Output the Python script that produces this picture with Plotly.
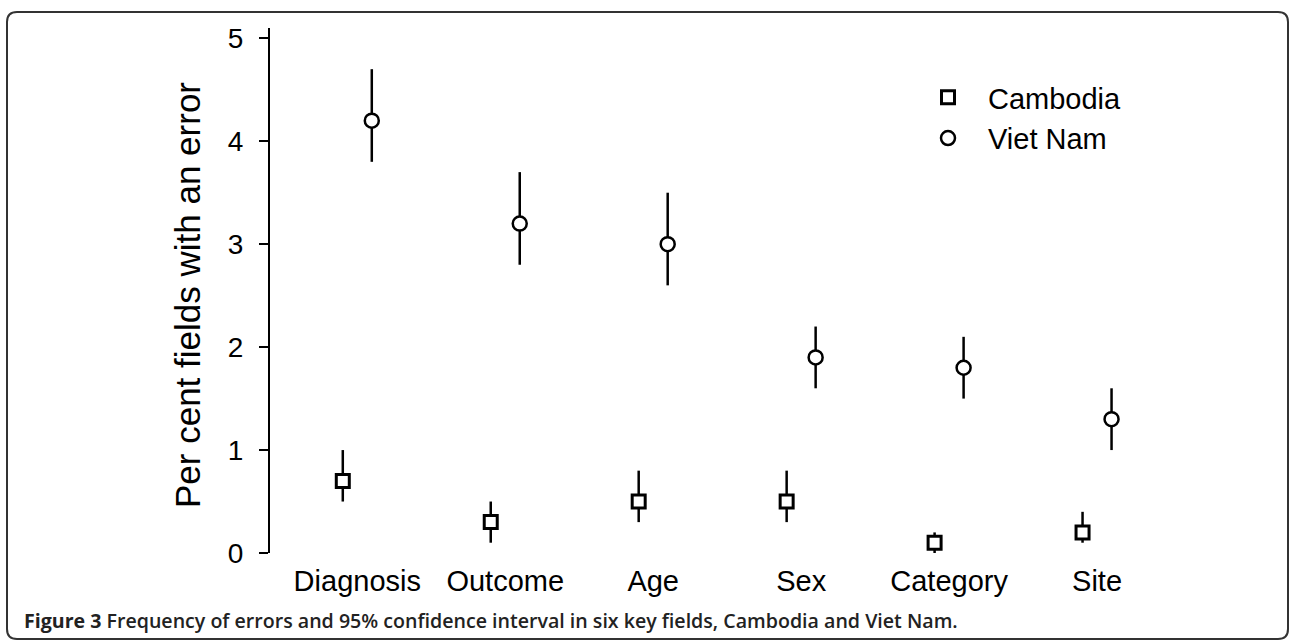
import plotly.graph_objects as go

categories = ["Diagnosis", "Outcome", "Age", "Sex", "Category", "Site"]

cambodia = [0.7, 0.3, 0.5, 0.5, 0.1, 0.2]
cambodia_hi = [1.0, 0.5, 0.8, 0.8, 0.2, 0.4]
cambodia_lo = [0.5, 0.1, 0.3, 0.3, 0.0, 0.1]

vietnam = [4.2, 3.2, 3.0, 1.9, 1.8, 1.3]
vietnam_hi = [4.7, 3.7, 3.5, 2.2, 2.1, 1.6]
vietnam_lo = [3.8, 2.8, 2.6, 1.6, 1.5, 1.0]

y_ticks = [0, 1, 2, 3, 4, 5]

W, H = 1292, 642
L, R, T, B = 270, 47, 28, 89
PW, PH = W - L - R, H - T - B

def px(x):
    return (x - L) / PW

def py(y):
    return (H - B - y) / PH

idx = list(range(len(categories)))
off = 0.098

fig = go.Figure()
fig.add_trace(go.Scatter(
    x=[i - off for i in idx], y=cambodia, mode="markers", name="Cambodia",
    marker=dict(symbol="square", size=13, color="white", line=dict(color="black", width=3)),
    error_y=dict(type="data", symmetric=False,
                 array=[h - v for h, v in zip(cambodia_hi, cambodia)],
                 arrayminus=[v - l for v, l in zip(cambodia, cambodia_lo)],
                 color="black", thickness=2.5, width=0),
))
fig.add_trace(go.Scatter(
    x=[i + off for i in idx], y=vietnam, mode="markers", name="Viet Nam",
    marker=dict(symbol="circle", size=14, color="white", line=dict(color="black", width=2.5)),
    error_y=dict(type="data", symmetric=False,
                 array=[h - v for h, v in zip(vietnam_hi, vietnam)],
                 arrayminus=[v - l for v, l in zip(vietnam, vietnam_lo)],
                 color="black", thickness=2.5, width=0),
))

# rounded frame
x0, x1 = px(7), px(1288)
y0, y1 = py(639), py(12)
rx = 10 / PW
ry = 10 / PH
path = (f"M {x0+rx},{y1} L {x1-rx},{y1} Q {x1},{y1} {x1},{y1-ry} "
        f"L {x1},{y0+ry} Q {x1},{y0} {x1-rx},{y0} "
        f"L {x0+rx},{y0} Q {x0},{y0} {x0},{y0+ry} "
        f"L {x0},{y1-ry} Q {x0},{y1} {x0+rx},{y1} Z")
fig.add_shape(type="path", path=path, xref="paper", yref="paper",
              line=dict(color="#333333", width=2))

fig.add_annotation(
    text="Per cent fields with an error", textangle=-90,
    xref="paper", yref="paper", x=px(187), y=py(295),
    xanchor="center", yanchor="middle", showarrow=False,
    font=dict(family="Liberation Sans, Arial", size=35, color="black"),
)
fig.add_annotation(
    text="<b>Figure 3</b> Frequency of errors and 95% confidence interval in six key fields, Cambodia and Viet Nam.",
    xref="paper", yref="paper", x=px(22), y=py(620),
    xanchor="left", yanchor="middle", showarrow=False,
    font=dict(family="Open Sans", size=19.6, color="#222222", weight=600),
)

fig.update_layout(
    width=W, height=H,
    margin=dict(l=L, r=R, t=T, b=B, pad=0),
    plot_bgcolor="white", paper_bgcolor="white",
    font=dict(family="Liberation Sans, Arial", color="black"),
    showlegend=True,
    legend=dict(x=px(908), y=py(72), xanchor="left", yanchor="top",
                font=dict(size=29, color="black"), bgcolor="rgba(0,0,0,0)",
                itemsizing="trace", itemwidth=70),
    xaxis=dict(range=[-0.59, 6.0], tickmode="array", tickvals=idx, ticktext=categories,
               showline=False, showgrid=False, zeroline=False, ticks="",
               tickfont=dict(size=29, color="black"), ticklabelstandoff=8),
    yaxis=dict(range=[0, 5.1], tickmode="array", tickvals=y_ticks,
               showline=True, linecolor="black", linewidth=2, showgrid=False,
               zeroline=False, ticks="outside", ticklen=9, tickwidth=1.5, tickcolor="black",
               tickfont=dict(size=28, color="black"), ticklabelstandoff=10),
)

fig.write_html("out.html")
